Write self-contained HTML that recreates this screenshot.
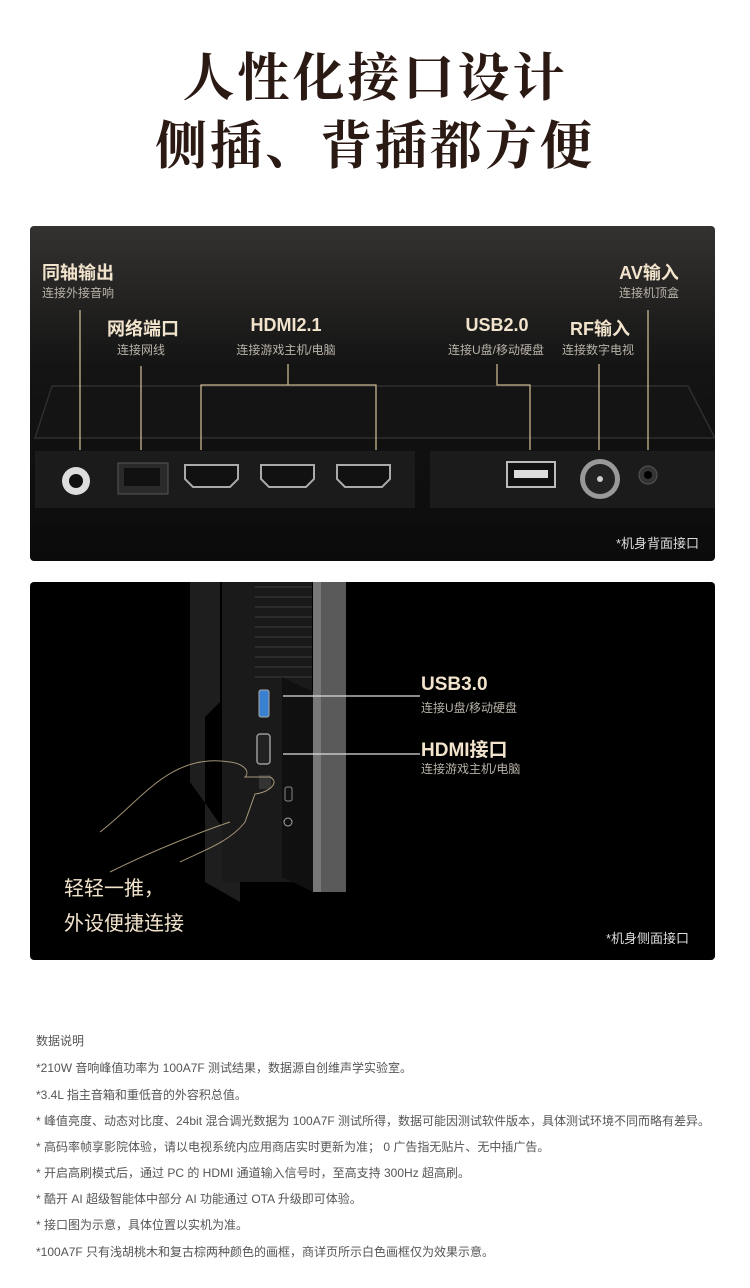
<!DOCTYPE html>
<html><head><meta charset="utf-8"><style>
*{margin:0;padding:0;box-sizing:border-box}
body{width:750px;height:1288px;background:#fff;position:relative;overflow:hidden;font-family:"Liberation Sans","Noto Sans CJK SC",sans-serif}
.t{position:absolute;left:0;width:750px;text-align:center;font-family:"Liberation Serif","Noto Serif CJK SC",serif;color:#2b1a14;font-size:52px;font-weight:bold;letter-spacing:3px}
.p{position:absolute;left:30px;width:685px;border-radius:4px;overflow:hidden}
.a{position:absolute;color:#f2e4cc;font-weight:bold;font-size:18px;white-space:nowrap}
.s{position:absolute;color:#b8b2a8;font-size:12px;white-space:nowrap}
.c{transform:translateX(-50%);text-align:center}
.n{position:absolute;left:36px;font-size:12px;color:#555;white-space:nowrap}
</style></head><body>
<div class="t" style="top:36px">人性化接口设计</div>
<div class="t" style="top:104px">侧插、背插都方便</div>

<div class="p" style="top:226px;height:335px;background:linear-gradient(180deg,#343230 0%,#141414 42%,#0b0b0b 100%)">
<svg width="685" height="335" style="position:absolute;left:0;top:0">
<path d="M22 160 L658 160 L685 212 L5 212 Z" fill="#141414" stroke="#2e2e2e" stroke-width="1.5"/>
<rect x="5" y="225" width="380" height="57" fill="#1b1b1b"/>
<rect x="400" y="225" width="285" height="57" fill="#1b1b1b"/>
<rect x="0" y="282" width="685" height="14" fill="#0e0e0e"/>
<circle cx="46" cy="255" r="14" fill="#ddd"/><circle cx="46" cy="255" r="7" fill="#111"/>
<rect x="88" y="237" width="50" height="31" fill="#2a2a2a" stroke="#555"/>
<rect x="94" y="242" width="36" height="18" fill="#111"/>
<g fill="#111" stroke="#aaa" stroke-width="2">
<path d="M155 239 H208 V253 L200 261 H163 L155 253 Z"/>
<path d="M231 239 H284 V253 L276 261 H239 L231 253 Z"/>
<path d="M307 239 H360 V253 L352 261 H315 L307 253 Z"/></g>
<rect x="477" y="236" width="48" height="25" fill="#111" stroke="#bbb" stroke-width="2"/>
<rect x="484" y="244" width="34" height="8" fill="#ddd"/>
<circle cx="570" cy="253" r="20" fill="#999"/><circle cx="570" cy="253" r="15" fill="#222"/><circle cx="570" cy="253" r="3" fill="#ccc"/>
<circle cx="618" cy="249" r="9" fill="#333" stroke="#555"/><circle cx="618" cy="249" r="4" fill="#000"/>
<g stroke="#c8b590" stroke-width="1.3" fill="none">
<path d="M50 84 V224"/><path d="M111 140 V224"/>
<path d="M258 138 V159 M171 224 V159 H346 V224"/>
<path d="M467 138 V159 H500 V224"/><path d="M569 138 V224"/><path d="M618 84 V224"/>
</g></svg>
<div class="a" style="left:12px;top:33px">同轴输出</div><div class="s" style="left:12px;top:58px">连接外接音响</div>
<div class="a c" style="left:113px;top:89px">网络端口</div><div class="s c" style="left:111px;top:115px">连接网线</div>
<div class="a c" style="left:256px;top:89px">HDMI2.1</div><div class="s c" style="left:256px;top:115px">连接游戏主机/电脑</div>
<div class="a c" style="left:467px;top:89px">USB2.0</div><div class="s c" style="left:466px;top:115px">连接U盘/移动硬盘</div>
<div class="a c" style="left:570px;top:89px">RF输入</div><div class="s c" style="left:568px;top:115px">连接数字电视</div>
<div class="a c" style="left:619px;top:33px">AV输入</div><div class="s c" style="left:619px;top:58px">连接机顶盒</div>
<div class="s" style="right:16px;top:307px;color:#ddd;font-size:13px">*机身背面接口</div>
</div>

<div class="p" style="top:582px;height:378px;background:#000">
<svg width="685" height="378" style="position:absolute;left:0;top:0">
<path d="M160 0 H190 V120 L175 135 V300 L210 320 V270 L160 200 Z" fill="#1e1e1e"/>
<rect x="192" y="0" width="90" height="300" fill="#1a1a1a"/>
<g stroke="#2c2c2c" stroke-width="2"><path d="M225 5 H282 M225 15 H282 M225 25 H282 M225 35 H282 M225 45 H282 M225 55 H282 M225 65 H282 M225 75 H282 M225 85 H282 M225 95 H282"/></g>
<path d="M252 95 L283 110 V310 L252 295 Z" fill="#101010"/>
<rect x="283" y="0" width="33" height="310" fill="#5a5a5a"/>
<rect x="283" y="0" width="8" height="310" fill="#777"/>
<rect x="229" y="108" width="10" height="27" rx="2" fill="#3a80d0" stroke="#aaa"/>
<rect x="227" y="152" width="13" height="30" rx="3" fill="#222" stroke="#999" stroke-width="1.5"/>
<rect x="229" y="193" width="12" height="14" fill="#333"/>
<rect x="255" y="205" width="7" height="14" rx="2" fill="none" stroke="#888"/>
<circle cx="258" cy="240" r="4" fill="none" stroke="#aaa"/>
<g stroke="#c8b590" stroke-width="1" fill="none" opacity=".8">
<path d="M70 250 C110 220 140 170 200 180 C215 182 220 190 215 195 L240 195 C250 200 240 210 225 212 L215 240 C200 260 170 270 150 280"/>
<path d="M80 290 C120 270 170 250 200 240"/></g>
<g stroke="#ddd" stroke-width="1.3"><path d="M253 114 H390 M253 172 H390"/></g>
</svg>
<div class="a" style="left:391px;top:92px;font-size:19px">USB3.0</div><div class="s" style="left:391px;top:117px">连接U盘/移动硬盘</div>
<div class="a" style="left:391px;top:153px;font-size:19px">HDMI接口</div><div class="s" style="left:391px;top:178px">连接游戏主机/电脑</div>
<div class="a" style="left:34px;top:290px;font-size:20px;font-weight:normal">轻轻一推，</div>
<div class="a" style="left:34px;top:325px;font-size:20px;font-weight:normal">外设便捷连接</div>
<div class="s" style="right:26px;top:346px;color:#ddd;font-size:13px">*机身侧面接口</div>
</div>

<div class="n" style="top:1032px">数据说明</div>
<div class="n" style="top:1059px">*210W 音响峰值功率为 100A7F 测试结果，数据源自创维声学实验室。</div>
<div class="n" style="top:1086px">*3.4L 指主音箱和重低音的外容积总值。</div>
<div class="n" style="top:1112px">* 峰值亮度、动态对比度、24bit 混合调光数据为 100A7F 测试所得，数据可能因测试软件版本，具体测试环境不同而略有差异。</div>
<div class="n" style="top:1138px">* 高码率帧享影院体验，请以电视系统内应用商店实时更新为准； 0 广告指无贴片、无中插广告。</div>
<div class="n" style="top:1164px">* 开启高刷模式后，通过 PC 的 HDMI 通道输入信号时，至高支持 300Hz 超高刷。</div>
<div class="n" style="top:1190px">* 酷开 AI 超级智能体中部分 AI 功能通过 OTA 升级即可体验。</div>
<div class="n" style="top:1216px">* 接口图为示意，具体位置以实机为准。</div>
<div class="n" style="top:1243px">*100A7F 只有浅胡桃木和复古棕两种颜色的画框，商详页所示白色画框仅为效果示意。</div>
</body></html>
